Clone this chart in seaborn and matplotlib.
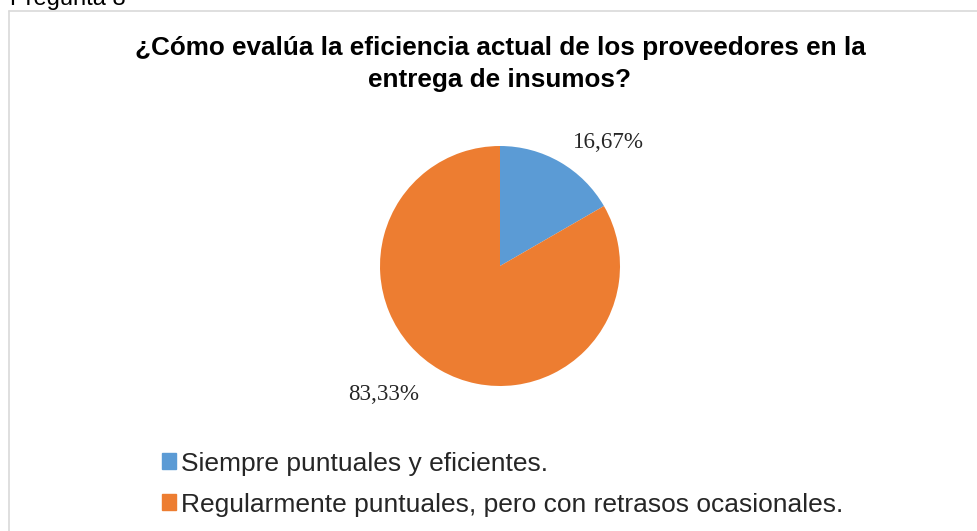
import matplotlib
matplotlib.use('Agg')
import matplotlib.pyplot as plt
import seaborn as sns
from matplotlib.patches import Rectangle
from matplotlib.lines import Line2D

# data
categorias = ['Siempre puntuales y eficientes.',
              'Regularmente puntuales, pero con retrasos ocasionales.']
porcentajes = [16.67, 83.33]
etiquetas = ['16,67%', '83,33%']
colores = ['#5B9BD5', '#ED7D31']

sns.set_style('white')
plt.rcParams['font.family'] = ['Liberation Sans', 'DejaVu Sans']

W, H = 977, 531
fig = plt.figure(figsize=(W / 100, H / 100), dpi=100)

def fx(px):
    return px / W

def fy(py):
    return 1 - py / H

# outer chart border (grey, open to right/bottom)
fig.add_artist(Line2D([fx(8.5), 1.0], [fy(10.5), fy(10.5)], color='#D9D9D9', lw=1.2))
fig.add_artist(Line2D([fx(8.5), fx(8.5)], [fy(10.5), 0.0], color='#D9D9D9', lw=1.2))

# text above the chart, cut by the top edge as in the original
fig.text(fx(10), fy(5), 'Pregunta 8', fontsize=17, va='baseline', ha='left', color='black')

# title
fig.text(fx(500), fy(48), '¿Cómo evalúa la eficiencia actual de los proveedores en la',
         fontsize=18.8, fontweight='bold', ha='center', va='center', color='#000000')
fig.text(fx(500), fy(80), 'entrega de insumos?',
         fontsize=18.8, fontweight='bold', ha='center', va='center', color='#000000')

# pie
cx, cy, r = 500, 266, 120
ax = fig.add_axes([fx(cx - r), fy(cy + r), 2 * r / W, 2 * r / H])
ax.pie(porcentajes, colors=colores, startangle=90, counterclock=False,
       wedgeprops=dict(linewidth=0))
ax.set_xlim(-1, 1)
ax.set_ylim(-1, 1)
ax.set_aspect('equal')
ax.axis('off')

# data labels
fig.text(fx(608), fy(142), etiquetas[0], fontsize=16.6, family='Liberation Serif',
         ha='center', va='center')
fig.text(fx(384), fy(394), etiquetas[1], fontsize=16.6, family='Liberation Serif',
         ha='center', va='center')

# legend
handles = [Rectangle((0, 0), 1, 1, color=c) for c in colores]
fig.legend(handles, categorias, loc='upper left', bbox_to_anchor=(fx(151), fy(441)),
           frameon=False, fontsize=19, handlelength=0.55, handleheight=0.55,
           handletextpad=0.2, labelspacing=0.65, borderaxespad=0)

fig.savefig('out.png', dpi=100)
